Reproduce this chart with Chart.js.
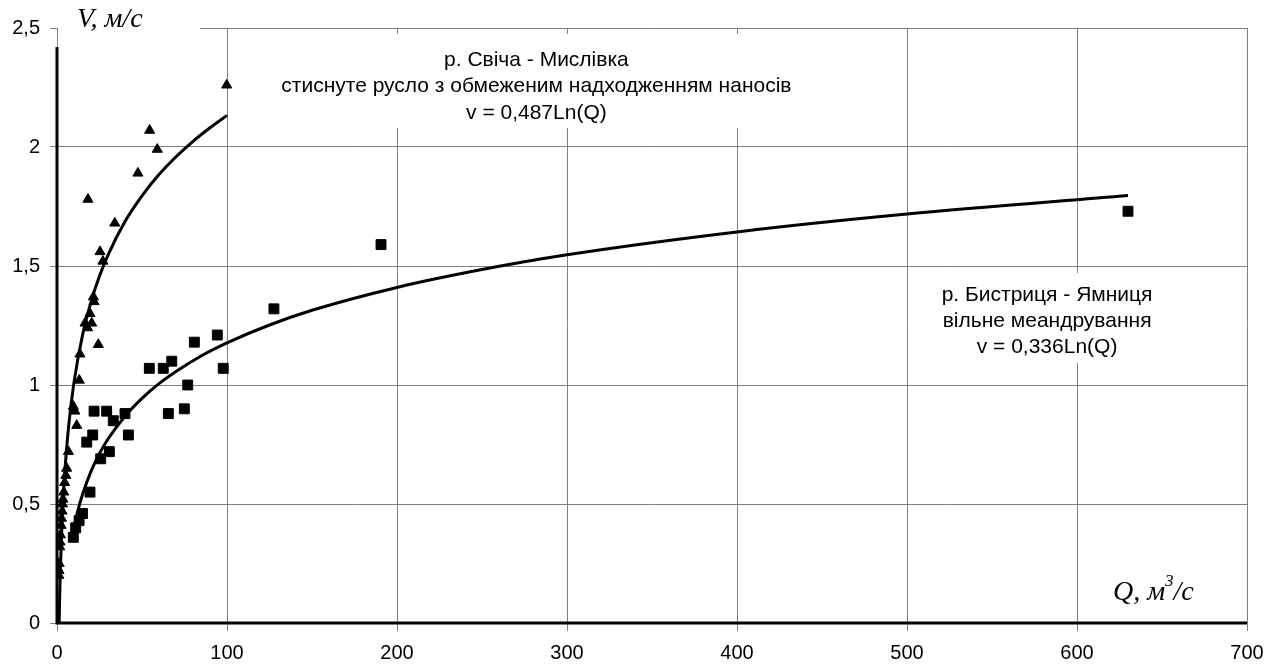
<!DOCTYPE html>
<html>
<head>
<meta charset="utf-8">
<script src="https://cdn.jsdelivr.net/npm/chart.js@4.4.0/dist/chart.umd.min.js"></script>
<style>
    html, body { margin: 0; padding: 0; background: #fff; }
    #wrap { width: 1274px; height: 665px; }
</style>
</head>
<body>
<div id="wrap"><canvas id="chart" width="1274" height="665"></canvas></div>
<script>
// р. Свіча - Мислівка (triangles)
const svichaQ = [99.8, 54.5, 59, 47.6, 18.2, 34, 25.3, 27, 21.4, 21.8, 19.4, 16.5, 20.4, 18, 24.3, 13.5, 13.1,
    9.6, 10.5, 11.6, 6.7, 5.7, 5.2, 4.5, 4.0, 3.5, 3.2, 3.0, 2.6, 2.4, 2.0, 1.8, 1.6, 1.3, 1.2, 1.1];
const svichaV = [2.26, 2.07, 1.99, 1.89, 1.78, 1.68, 1.56, 1.52, 1.37, 1.35, 1.30, 1.26, 1.26, 1.24, 1.17, 1.13, 1.02,
    0.91, 0.89, 0.83, 0.72, 0.65, 0.62, 0.59, 0.55, 0.52, 0.50, 0.47, 0.44, 0.41, 0.37, 0.34, 0.32, 0.25, 0.22, 0.20];

// р. Бистриця - Ямниця (squares)
const bystrQ = [630, 190.6, 127.6, 94.3, 80.8, 67.5, 62.5, 54.3, 97.8, 76.9, 74.9, 65.5, 40, 29.2, 21.8, 33.1,
    42, 21, 17.5, 30.8, 25.7, 19.4, 15, 13, 11, 9.6];
const bystrV = [1.73, 1.59, 1.32, 1.21, 1.18, 1.10, 1.07, 1.07, 1.07, 1.00, 0.90, 0.88, 0.88, 0.89, 0.89, 0.85,
    0.79, 0.79, 0.76, 0.72, 0.69, 0.55, 0.46, 0.43, 0.40, 0.36];

// trend curves
const trendSvichaQ = [1.25, 1.5, 2, 3, 4, 5, 7, 10, 15, 20, 25, 30, 40, 50, 60, 70, 80, 90, 100];
const trendSvichaV = [0, 0.087, 0.228, 0.425, 0.565, 0.674, 0.838, 1.011, 1.209, 1.349, 1.458, 1.546,
    1.687, 1.795, 1.884, 1.959, 2.024, 2.081, 2.133];
const trendBystrQ = [9, 12, 15, 20, 25, 30, 40, 50, 60, 70, 85, 100, 125, 150, 200, 250, 300, 400, 500, 630];
const trendBystrV = [0.368, 0.465, 0.540, 0.637, 0.712, 0.773, 0.869, 0.944, 1.006, 1.057, 1.123, 1.177,
    1.252, 1.314, 1.410, 1.485, 1.547, 1.643, 1.718, 1.796];

const xTicks = [0, 100, 200, 300, 400, 500, 600, 700];
const yTicks = [0, 0.5, 1, 1.5, 2, 2.5];

const toPoints = (xs, ys) => xs.map((x, i) => ({ x: x, y: ys[i] }));
const gridGray = '#808080';

const overlays = {
    id: 'overlays',
    beforeDatasetsDraw(chart) {
        const ctx = chart.ctx;
        const xs = chart.scales.x;
        const ys = chart.scales.y;
        ctx.save();

        // white boxes behind the trend labels and the V axis title
        ctx.fillStyle = '#fff';
        const c1 = xs.getPixelForValue(282);
        const l1 = ys.getPixelForValue(2.366);
        ctx.fillRect(c1 - 268, l1 - 26, 536, 94);
        const c2 = xs.getPixelForValue(582.4);
        const l2 = ys.getPixelForValue(1.378);
        ctx.fillRect(c2 - 117, l2 - 22, 234, 90);
        ctx.fillRect(xs.left + 1, 0, 142, 44);

        ctx.fillStyle = '#000';
        ctx.textAlign = 'center';
        ctx.textBaseline = 'middle';
        ctx.font = "21px 'Liberation Sans', Arial, sans-serif";
        ['р. Свіча - Мислівка', 'стиснуте русло з обмеженим надходженням наносів', 'v = 0,487Ln(Q)']
            .forEach((t, i) => ctx.fillText(t, c1, l1 + i * 26.5));
        ['р. Бистриця - Ямниця', 'вільне меандрування', 'v = 0,336Ln(Q)']
            .forEach((t, i) => ctx.fillText(t, c2, l2 + i * 26));

        // axis titles
        ctx.textAlign = 'left';
        ctx.textBaseline = 'alphabetic';
        ctx.font = "italic 28px 'Liberation Serif', 'Times New Roman', serif";
        ctx.fillText('V, м/с', xs.left + 20, 27);
        let qx = 1113;
        const qy = 600;
        ctx.fillText('Q, м', qx, qy);
        qx += ctx.measureText('Q, м').width;
        ctx.font = "italic 17px 'Liberation Serif', 'Times New Roman', serif";
        ctx.fillText('3', qx, qy - 14);
        qx += ctx.measureText('3').width;
        ctx.font = "italic 28px 'Liberation Serif', 'Times New Roman', serif";
        ctx.fillText('/с', qx, qy);

        // thick black axis lines
        const x0 = xs.getPixelForValue(0);
        const y0 = ys.getPixelForValue(0);
        ctx.strokeStyle = '#000';
        ctx.lineWidth = 3;
        ctx.beginPath();
        ctx.moveTo(x0, ys.getPixelForValue(2.42));
        ctx.lineTo(x0, y0);
        ctx.lineTo(xs.getPixelForValue(700), y0);
        ctx.stroke();
        ctx.restore();
    }
};

const config = {
    type: 'scatter',
    data: {
        datasets: [
            {
                label: 'Свіча',
                data: toPoints(svichaQ, svichaV),
                pointStyle: 'triangle',
                pointRadius: 5.8,
                backgroundColor: '#000',
                borderColor: '#000',
                borderWidth: 1
            },
            {
                label: 'Бистриця',
                data: toPoints(bystrQ, bystrV),
                pointStyle: 'rect',
                pointRadius: 7,
                backgroundColor: '#000',
                borderColor: '#000',
                borderWidth: 1
            },
            {
                label: 'trend Свіча',
                data: toPoints(trendSvichaQ, trendSvichaV),
                showLine: true,
                pointRadius: 0,
                borderColor: '#000',
                borderWidth: 3,
                cubicInterpolationMode: 'monotone'
            },
            {
                label: 'trend Бистриця',
                data: toPoints(trendBystrQ, trendBystrV),
                showLine: true,
                pointRadius: 0,
                borderColor: '#000',
                borderWidth: 3,
                cubicInterpolationMode: 'monotone'
            }
        ]
    },
    options: {
        responsive: false,
        animation: false,
        devicePixelRatio: 1,
        layout: { padding: { top: 28, right: 27, left: 0, bottom: 0 } },
        plugins: {
            legend: { display: false },
            tooltip: { enabled: false }
        },
        events: [],
        scales: {
            x: {
                type: 'linear',
                min: 0,
                max: 700,
                afterBuildTicks: (s) => { s.ticks = xTicks.map(v => ({ value: v })); },
                afterFit: (s) => { s.height = 42; },
                grid: { color: gridGray, lineWidth: 1, tickLength: 8, tickColor: gridGray },
                border: { color: gridGray },
                ticks: {
                    color: '#000',
                    padding: 10,
                    maxRotation: 0,
                    font: { family: "'Liberation Sans', Arial, sans-serif", size: 20 }
                }
            },
            y: {
                type: 'linear',
                min: 0,
                max: 2.5,
                afterBuildTicks: (s) => { s.ticks = yTicks.map(v => ({ value: v })); },
                afterFit: (s) => { s.width = 57; },
                grid: { color: gridGray, lineWidth: 1, tickLength: 7, tickColor: gridGray },
                border: { color: gridGray },
                ticks: {
                    color: '#000',
                    padding: 10,
                    callback: (v) => String(v).replace('.', ','),
                    font: { family: "'Liberation Sans', Arial, sans-serif", size: 20 }
                }
            }
        }
    },
    plugins: [overlays]
};

new Chart(document.getElementById('chart').getContext('2d'), config);
</script>
</body>
</html>
